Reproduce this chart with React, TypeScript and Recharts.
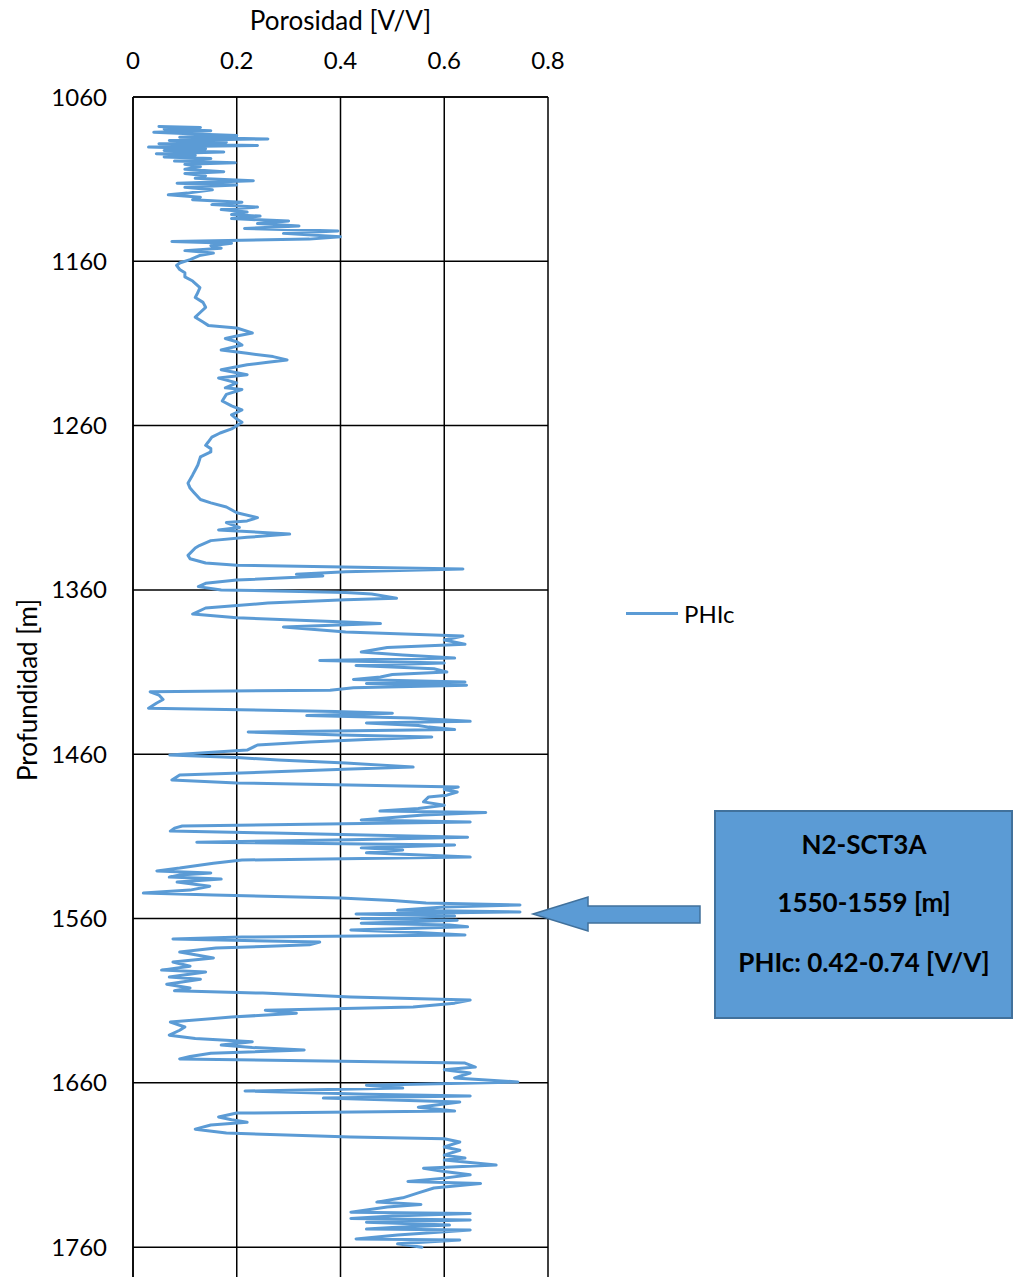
import { ScatterChart, Scatter, XAxis, YAxis, CartesianGrid } from 'recharts';

const depth = [
  1078, 1078.5, 1079.5, 1080.5, 1081.5, 1082.5, 1083.5, 1084.5, 1085.5, 1086.5, 1087.5, 1088.5, 1089.5, 1090.5,
  1091.5, 1092.5, 1093.5, 1094.5, 1095.5, 1096.5, 1097.5, 1099, 1100, 1101, 1102.5, 1104, 1105.5, 1106.5, 1108,
  1109.5, 1111, 1112.5, 1113.5, 1115, 1116.5, 1118.5, 1119.5, 1121, 1122.5, 1124, 1125.5, 1127, 1128.5, 1130,
  1131.5, 1132.5, 1134, 1135.5, 1137, 1138.5, 1140, 1141.5, 1143, 1145, 1146.5, 1148, 1149, 1150.5, 1152, 1153.5,
  1155, 1156.5, 1159, 1161, 1162.5, 1165, 1167, 1169.5, 1172, 1176, 1179, 1182, 1185, 1188, 1191, 1194, 1197, 1199,
  1200.6, 1203.6, 1205.5, 1207, 1209, 1211, 1212.5, 1214, 1216, 1218, 1220, 1221.5, 1223, 1226, 1229, 1231, 1234,
  1237, 1238, 1241, 1245, 1248, 1250.5, 1253.5, 1256, 1258, 1260, 1262, 1264.5, 1267, 1270, 1272, 1274, 1276, 1279,
  1284, 1287, 1290, 1295, 1298, 1300.5, 1305, 1307, 1309.5, 1313, 1316, 1318, 1319, 1322, 1323.5, 1325, 1326, 1328,
  1330, 1333, 1334.5, 1339, 1341, 1343.6, 1345, 1346, 1347.3, 1349, 1350.5, 1351.5, 1354, 1356, 1358, 1360, 1361.5,
  1362.5, 1365, 1366, 1368, 1371, 1374.7, 1377, 1379.5, 1380.5, 1382.6, 1385.6, 1388, 1390.5, 1393, 1395, 1397.8,
  1399.6, 1401.5, 1403, 1404.5, 1406, 1408, 1410, 1411.5, 1413, 1414.5, 1416, 1417, 1418, 1419.5, 1421, 1422, 1424,
  1426.7, 1429, 1432, 1434, 1435, 1436.5, 1438, 1440, 1441, 1442.5, 1443.5, 1445, 1446.5, 1448.3, 1449.5, 1451,
  1452.6, 1454.4, 1457.5, 1460.5, 1462, 1463.5, 1465.4, 1467.8, 1469, 1470.8, 1472.7, 1475.7, 1477.5, 1480, 1481.5,
  1483, 1484.9, 1486, 1489, 1491, 1493, 1494.6, 1495.5, 1497, 1500, 1501.3, 1503.7, 1505, 1506.8, 1508, 1510.5,
  1512, 1513.5, 1515.3, 1517, 1518.3, 1520, 1522.6, 1524.4, 1526.3, 1529.3, 1531, 1532.3, 1533.5, 1534.8, 1536,
  1537.8, 1540.3, 1542.7, 1544.5, 1545.7, 1547.5, 1549, 1550.6, 1551.8, 1553, 1554.9, 1556, 1557.2, 1558.5, 1560,
  1561, 1562.8, 1564, 1565, 1567, 1568.5, 1570, 1571.3, 1572.5, 1574.3, 1576, 1577, 1578, 1580.4, 1582, 1584,
  1586.5, 1589, 1591.4, 1592.5, 1595.6, 1596.9, 1600, 1602.3, 1604, 1605.4, 1607.8, 1609.6, 1611.5, 1613.9, 1615.8,
  1617.6, 1620, 1623, 1626, 1628, 1631, 1633, 1635, 1637, 1638.5, 1640, 1642, 1644, 1645.5, 1648, 1650.4, 1652,
  1654, 1657, 1659.5, 1661.4, 1663.2, 1665, 1667, 1668, 1669.3, 1671.7, 1674.8, 1677.2, 1678.4, 1680.8, 1682.5,
  1684, 1685.7, 1688.2, 1690.6, 1693, 1694, 1696, 1699, 1701, 1704, 1705.8, 1707, 1710, 1712, 1714, 1716, 1718,
  1720, 1721.3, 1724, 1727, 1730, 1732.6, 1734, 1735.6, 1738.7, 1739.5, 1741, 1742.5, 1743.5, 1744.8, 1746.6, 1748,
  1749, 1749.5, 1752.6, 1755, 1755.6, 1758, 1760,
];

const phic = [
  0.05, 0.13, 0.06, 0.15, 0.04, 0.12, 0.2, 0.09, 0.26, 0.07, 0.18, 0.05, 0.24, 0.03,
  0.14, 0.06, 0.175, 0.045, 0.12, 0.06, 0.15, 0.08, 0.197, 0.1, 0.13, 0.1, 0.175, 0.1, 0.14,
  0.12, 0.232, 0.085, 0.2, 0.1, 0.153, 0.105, 0.068, 0.13, 0.115, 0.21, 0.152, 0.24, 0.17, 0.22,
  0.19, 0.245, 0.19, 0.3, 0.24, 0.32, 0.215, 0.395, 0.29, 0.4, 0.34, 0.075, 0.19, 0.15, 0.17, 0.1,
  0.155, 0.128, 0.11, 0.09, 0.084, 0.09, 0.1, 0.1, 0.115, 0.129, 0.125, 0.12, 0.135, 0.14, 0.13, 0.12, 0.135, 0.145,
  0.2, 0.23, 0.2, 0.178, 0.2, 0.21, 0.19, 0.17, 0.22, 0.27, 0.297, 0.26, 0.22, 0.17, 0.22, 0.165, 0.2,
  0.178, 0.21, 0.18, 0.172, 0.19, 0.21, 0.19, 0.2, 0.21, 0.2, 0.19, 0.168, 0.152, 0.145, 0.14, 0.15, 0.15, 0.13,
  0.125, 0.12, 0.115, 0.106, 0.11, 0.117, 0.13, 0.15, 0.18, 0.2, 0.24, 0.22, 0.18, 0.205, 0.165, 0.25, 0.302, 0.22,
  0.15, 0.128, 0.12, 0.106, 0.11, 0.14, 0.2, 0.405, 0.636, 0.41, 0.315, 0.366, 0.2, 0.14, 0.126, 0.17, 0.41,
  0.46, 0.508, 0.41, 0.26, 0.14, 0.115, 0.2, 0.41, 0.477, 0.29, 0.41, 0.636, 0.6, 0.64, 0.49, 0.44,
  0.52, 0.62, 0.36, 0.6, 0.43, 0.58, 0.605, 0.5, 0.477, 0.425, 0.64, 0.45, 0.643, 0.425, 0.38, 0.033, 0.05,
  0.058, 0.045, 0.03, 0.39, 0.5, 0.335, 0.536, 0.65, 0.45, 0.55, 0.57, 0.62, 0.222, 0.4, 0.576, 0.45,
  0.34, 0.24, 0.22, 0.071, 0.2, 0.28, 0.41, 0.54, 0.42, 0.26, 0.09, 0.075, 0.2, 0.627, 0.6,
  0.625, 0.605, 0.57, 0.56, 0.6, 0.55, 0.476, 0.68, 0.56, 0.44, 0.65, 0.095, 0.08, 0.072, 0.27, 0.645,
  0.42, 0.123, 0.62, 0.44, 0.52, 0.45, 0.65, 0.21, 0.155, 0.09, 0.046, 0.15, 0.09, 0.07, 0.17,
  0.085, 0.148, 0.11, 0.02, 0.155, 0.4, 0.5, 0.565, 0.746, 0.6, 0.51, 0.746, 0.43, 0.62, 0.44,
  0.625, 0.44, 0.61, 0.645, 0.42, 0.55, 0.64, 0.21, 0.077, 0.36, 0.34, 0.25, 0.16, 0.09, 0.12, 0.155,
  0.077, 0.11, 0.055, 0.14, 0.07, 0.13, 0.065, 0.11, 0.08, 0.25, 0.42, 0.65, 0.62, 0.54, 0.255,
  0.315, 0.19, 0.072, 0.1, 0.09, 0.07, 0.12, 0.23, 0.17, 0.23, 0.33, 0.15, 0.11, 0.09, 0.64, 0.66, 0.6,
  0.65, 0.62, 0.742, 0.45, 0.52, 0.216, 0.45, 0.65, 0.367, 0.63, 0.55, 0.62, 0.2, 0.165, 0.19,
  0.22, 0.15, 0.12, 0.18, 0.42, 0.6, 0.63, 0.6, 0.63, 0.6, 0.64, 0.6, 0.7, 0.56, 0.6, 0.65, 0.6,
  0.53, 0.67, 0.58, 0.55, 0.52, 0.47, 0.555, 0.49, 0.42, 0.65, 0.5, 0.42, 0.65, 0.45, 0.61, 0.5,
  0.45, 0.65, 0.51, 0.43, 0.63, 0.51, 0.557,
];

const xTicks = [0, 0.2, 0.4, 0.6, 0.8];
const yTicks = [1060, 1160, 1260, 1360, 1460, 1560, 1660, 1760];

const BLUE = '#5B9BD5';
const FONT = 'Lato, "Open Sans", sans-serif';

const rows = depth.map((d, i) => ({ depth: d, phi: phic[i] }));

export default function App() {
  return (
    <div
      style={{
        position: 'fixed',
        left: 0,
        top: 0,
        width: 1014,
        height: 1277,
        overflow: 'hidden',
        background: '#fff',
        fontFamily: FONT,
      }}
    >
      <ScatterChart width={1014} height={1300} margin={{ top: 57, left: 53, right: 466, bottom: 20 }}>
        <CartesianGrid stroke="#000" strokeWidth={1.5} />
        <XAxis
          type="number"
          dataKey="phi"
          orientation="top"
          domain={[0, 0.8]}
          ticks={xTicks}
          height={40}
          tickSize={0}
          tickMargin={28}
          axisLine={{ stroke: '#000', strokeWidth: 1.5 }}
          tick={{ fill: '#000', fontSize: 24, fontFamily: FONT }}
          tickFormatter={(v: number) => String(v)}
        />
        <YAxis
          type="number"
          dataKey="depth"
          reversed
          domain={[1060, 1780]}
          ticks={yTicks}
          width={80}
          tickSize={0}
          tickMargin={26}
          axisLine={{ stroke: '#000', strokeWidth: 1.5 }}
          tick={{ fill: '#000', fontSize: 24, fontFamily: FONT }}
        />
        <Scatter
          data={rows}
          fill={BLUE}
          stroke={BLUE}
          strokeWidth={3}
          line={{ stroke: BLUE, strokeWidth: 3, strokeLinejoin: 'round', strokeLinecap: 'round' }}
          shape={() => <g />}
          isAnimationActive={false}
        />
      </ScatterChart>

      <div
        style={{
          position: 'absolute',
          left: 200,
          width: 281,
          top: 5,
          textAlign: 'center',
          fontSize: 26,
          lineHeight: '30px',
          color: '#000',
        }}
      >
        Porosidad [V/V]
      </div>
      <div
        style={{
          position: 'absolute',
          left: 27,
          top: 690,
          transform: 'translate(-50%, -50%) rotate(-90deg)',
          whiteSpace: 'nowrap',
          fontSize: 26,
          lineHeight: '30px',
          color: '#000',
        }}
      >
        Profundidad [m]
      </div>

      {/* legend */}
      <div style={{ position: 'absolute', left: 626, top: 598, display: 'flex', alignItems: 'center', height: 30 }}>
        <div style={{ width: 52, height: 3, background: BLUE }} />
        <span style={{ marginLeft: 6, fontSize: 24, color: '#000' }}>PHIc</span>
      </div>

      {/* callout */}
      <svg width={1014} height={1277} style={{ position: 'absolute', left: 0, top: 0, pointerEvents: 'none' }}>
        <polygon
          points="533,914 588,897 588,906 700,906 700,923 588,923 588,931"
          fill={BLUE}
          stroke="#41719C"
          strokeWidth={1.5}
        />
        <rect x={715} y={811} width={297} height={207} fill={BLUE} stroke="#41719C" strokeWidth={2} />
        <g fontFamily={FONT} fontWeight="bold" fontSize={26} fill="#000" textAnchor="middle">
          <text x={864} y={854}>N2-SCT3A</text>
          <text x={864} y={912}>1550-1559 [m]</text>
          <text x={864} y={972}>PHIc: 0.42-0.74 [V/V]</text>
        </g>
      </svg>
    </div>
  );
}
